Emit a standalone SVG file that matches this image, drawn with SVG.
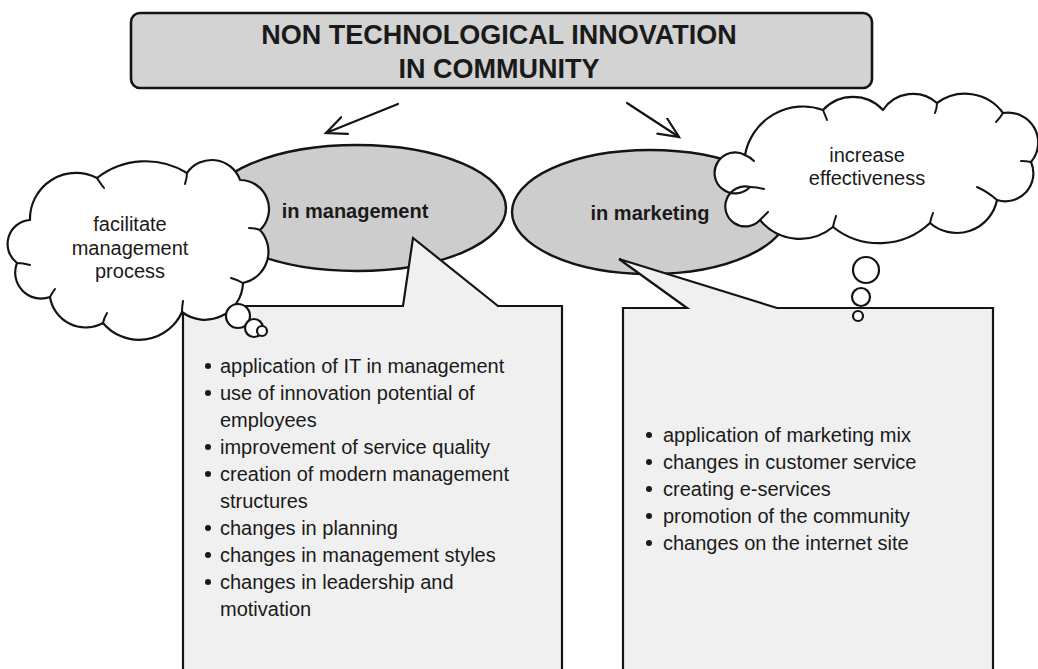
<svg xmlns="http://www.w3.org/2000/svg" width="1038" height="669" viewBox="0 0 1038 669">
<style>
.ln{stroke:#141414;stroke-width:2.2;fill:none;stroke-linejoin:round;stroke-linecap:round}
.box{fill:#f0f0f0;stroke:#141414;stroke-width:2.2;stroke-linejoin:miter}
.ell{fill:#cdcdcd;stroke:#141414;stroke-width:2.4}
.cloud{fill:#ffffff;stroke:#141414;stroke-width:2.2;stroke-linejoin:round}
.hook{fill:none;stroke:#141414;stroke-width:2;stroke-linecap:round}
.t{font-family:"Liberation Sans",Arial,sans-serif;fill:#1a1a1a}
.title{font-size:27px;font-weight:bold;text-anchor:middle}
.lab{font-size:20px;font-weight:bold;text-anchor:middle}
.cl{font-size:20px;text-anchor:middle}
.it{font-size:20px}
.dot{fill:#1a1a1a}
</style>
<defs>
<marker id="open" markerUnits="userSpaceOnUse" markerWidth="24" markerHeight="22" refX="21" refY="10" orient="auto">
<path d="M1,1 L21,10 L1,19" fill="none" stroke="#141414" stroke-width="2.2" stroke-linecap="round" stroke-linejoin="miter"/>
</marker>
</defs>
<rect width="1038" height="669" fill="#ffffff"/>

<g id="title">
<rect x="131" y="13" width="741" height="75" rx="9" fill="#d3d3d3" stroke="#141414" stroke-width="2.6"/>
<text class="t title" x="499" y="44">NON TECHNOLOGICAL INNOVATION</text>
<text class="t title" x="499" y="78">IN COMMUNITY</text>
</g>

<g id="connectors">
<line class="ln" x1="398" y1="104" x2="326" y2="133" marker-end="url(#open)"/>
<line class="ln" x1="627" y1="103" x2="679" y2="137" marker-end="url(#open)"/>
</g>

<g id="management">
<ellipse class="ell" cx="357" cy="208" rx="149" ry="63"/>
<text class="t lab" x="355" y="218">in management</text>
</g>

<g id="marketing">
<ellipse class="ell" cx="650" cy="212" rx="138" ry="62"/>
<text class="t lab" x="650" y="220">in marketing</text>
</g>

<g id="management-list">
<path class="box" d="M183,306 L403,306 L413,238 L498,306 L562,306 L562,690 L183,690 Z"/>
<g class="t it">
<text x="220" y="373">application of IT in management</text>
<text x="220" y="400">use of innovation potential of</text>
<text x="220" y="427">employees</text>
<text x="220" y="454">improvement of service quality</text>
<text x="220" y="481">creation of modern management</text>
<text x="220" y="508">structures</text>
<text x="220" y="535">changes in planning</text>
<text x="220" y="562">changes in management styles</text>
<text x="220" y="589">changes in leadership and</text>
<text x="220" y="616">motivation</text>
</g>
<g class="dot">
<circle cx="208" cy="366" r="3"/>
<circle cx="208" cy="393" r="3"/>
<circle cx="208" cy="447" r="3"/>
<circle cx="208" cy="474" r="3"/>
<circle cx="208" cy="528" r="3"/>
<circle cx="208" cy="555" r="3"/>
<circle cx="208" cy="582" r="3"/>
</g>
</g>

<g id="marketing-list">
<path class="box" d="M623,308 L687,308 L619,259 L777,308 L993,308 L993,690 L623,690 Z"/>
<g class="t it">
<text x="663" y="442">application of marketing mix</text>
<text x="663" y="469">changes in customer service</text>
<text x="663" y="496">creating e-services</text>
<text x="663" y="523">promotion of the community</text>
<text x="663" y="550">changes on the internet site</text>
</g>
<g class="dot">
<circle cx="649" cy="435" r="3"/>
<circle cx="649" cy="462" r="3"/>
<circle cx="649" cy="489" r="3"/>
<circle cx="649" cy="516" r="3"/>
<circle cx="649" cy="543" r="3"/>
</g>
</g>

<g id="cloud-management">
<path class="cloud" d="M17,263 A24 24 0 0 1 30,220 A46 46 0 0 1 97,178 A79 79 0 0 1 187,173 A30 30 0 0 1 240,180 A29 29 0 0 1 260,230 A32 32 0 0 1 243,283 A38 38 0 0 1 182,312 A47 47 0 0 1 103,323 A36 36 0 0 1 50,297 A26 26 0 0 1 17,263 Z"/>
<path class="hook" d="M97,178 Q100,183 104,188 M187,173 Q187,178 185,184 M260,230 Q255,228 249,228 M243,283 Q238,280 231,278 M182,312 Q182,307 183,301 M103,323 Q104,318 107,313 M50,297 Q52,293 55,289 M17,263 Q23,263 30,265"/>
<circle class="cloud" cx="238" cy="316" r="12"/>
<circle class="cloud" cx="254" cy="328" r="9"/>
<circle class="cloud" cx="262" cy="331" r="5"/>
<text class="t cl" x="130" y="231">facilitate</text>
<text class="t cl" x="130" y="255">management</text>
<text class="t cl" x="130" y="278">process</text>
</g>

<g id="cloud-marketing">
<path class="cloud" d="M760,220 A20 20 0 1 1 750,187 A20.5 20.5 0 1 1 745,155 A59 59 0 0 1 823,110 A41 41 0 0 1 883,110 A36 36 0 0 1 937,103 A47 47 0 0 1 1003,113 A30 30 0 0 1 1031,162 A28 28 0 0 1 997,200 A41 41 0 0 1 930,223 A74 74 0 0 1 833,227 A52 52 0 0 1 760,220 Z"/>
<path class="hook" d="M750,187 Q757,187 764,189 M745,155 Q750,157 754,161 M823,110 Q825,115 827,120 M937,103 Q937,108 935,113 M1003,113 Q1000,118 996,122 M1031,162 Q1026,161 1021,161 M997,200 Q988,192 977,187 M930,223 Q931,218 933,213 M833,227 Q834,222 836,216 M760,220 Q764,216 768,212"/>
<circle class="cloud" cx="866" cy="270" r="13"/>
<circle class="cloud" cx="861" cy="297" r="9"/>
<circle class="cloud" cx="858" cy="316" r="5"/>
<text class="t cl" x="867" y="162">increase</text>
<text class="t cl" x="867" y="185">effectiveness</text>
</g>
</svg>
